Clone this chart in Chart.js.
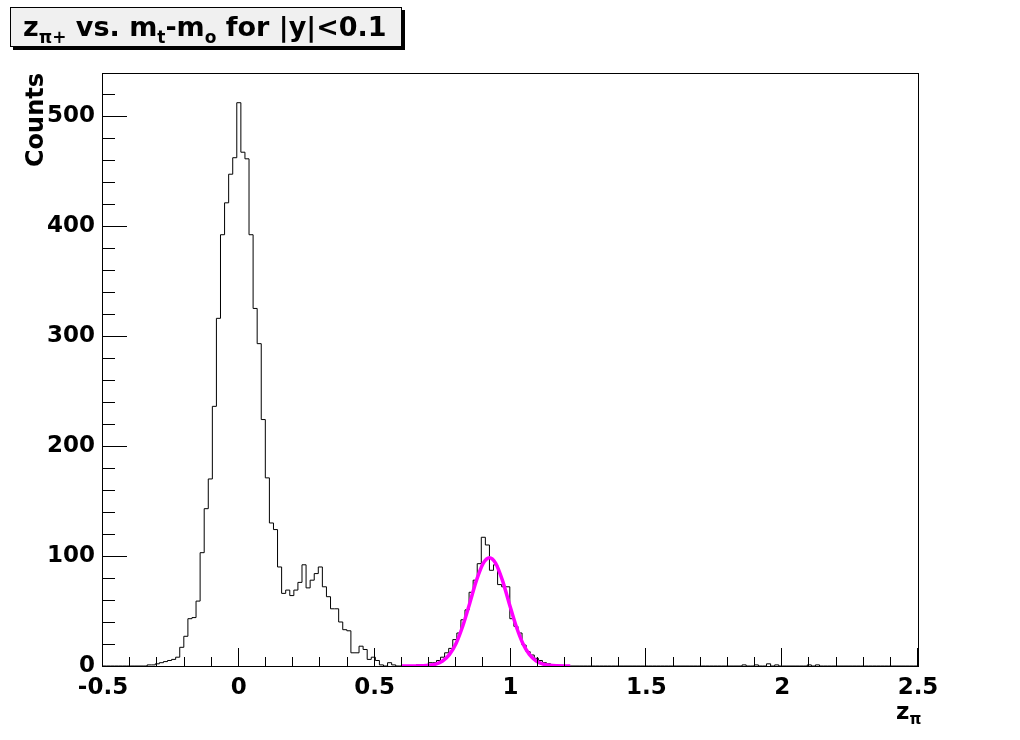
<!DOCTYPE html>
<html lang="en">
<head>
<meta charset="UTF-8">
<title>z_pi+ vs. mt-mo for |y|&lt;0.1</title>
<script src="https://cdn.jsdelivr.net/npm/chart.js"></script>
<style>
  * { box-sizing: border-box; margin: 0; padding: 0; }
  body { background: #fff; }
  #chart { display: block; }
</style>
</head>
<body>
<canvas id="chart" width="1020" height="740"></canvas>
<script>
  // histogram: 200 bins of width 0.015, first low edge at -0.5025
  const binLow = -0.5025;
  const binWidth = 0.015;
  const counts = [
    0, 0, 0, 0, 0, 0, 0, 0, 0, 0,
    0, 1, 1, 2, 3, 4, 5, 6, 8, 17,
    27, 43, 44, 59, 103, 143, 170, 236, 316, 392,
    421, 447, 462, 512, 467, 461, 392, 325, 293, 224,
    171, 130, 124, 90, 66, 69, 64, 69, 76, 92,
    71, 78, 84, 90, 72, 63, 52, 52, 40, 33,
    32, 12, 12, 18, 15, 6, 8, 5, 1, 0,
    3, 1, 0, 0, 0, 0, 0, 1, 1, 1,
    3, 3, 5, 8, 12, 16, 24, 30, 42, 51,
    67, 78, 93, 117, 110, 87, 92, 74, 72, 72,
    43, 36, 30, 19, 13, 10, 7, 5, 3, 2,
    1, 0, 0, 0, 0, 0, 0, 0, 0, 0,
    0, 0, 0, 0, 0, 0, 0, 0, 0, 0,
    0, 0, 0, 0, 0, 0, 0, 0, 0, 0,
    0, 0, 0, 0, 0, 0, 0, 0, 0, 0,
    0, 0, 0, 0, 0, 0, 0, 1, 0, 0,
    1, 0, 0, 2, 0, 1, 0, 0, 0, 0,
    0, 0, 0, 1, 0, 1, 0, 0, 0, 0,
    0, 0, 0, 0, 0, 0, 0, 0, 0, 0,
    0, 0, 0, 0, 0, 0, 0, 0, 0, 0
  ];

  // gaussian fit curve
  const fitX = [0.60, 0.65, 0.70, 0.725, 0.75, 0.775, 0.80, 0.825, 0.85, 0.875, 0.90, 0.9225,
                0.945, 0.97, 0.995, 1.02, 1.045, 1.07, 1.095, 1.12, 1.145, 1.17, 1.22];
  const fitY = [0, 0.05, 0.6, 1.7, 4.5, 10.3, 20.7, 36.8, 57.1, 78, 93.5, 98.5,
                93.5, 78, 57.1, 36.8, 20.7, 10.3, 4.5, 1.7, 0.6, 0.2, 0];

  const xLabels = [-0.5, 0, 0.5, 1, 1.5, 2, 2.5];
  const yLabels = [0, 100, 200, 300, 400, 500];

  const FONT = '"DejaVu Sans"';
  Chart.defaults.font.family = FONT;

  let histPoints = counts.map((c, k) => ({ x: binLow + k * binWidth, y: c }));
  histPoints.push({ x: binLow + counts.length * binWidth, y: counts[counts.length - 1] });
  let fitPoints = fitX.map((x, i) => ({ x: x, y: fitY[i] }));

  // ROOT style frame, inward ticks, title box and x title
  const rootFrame = {
    id: 'rootFrame',
    beforeDraw(chart) {
      const ctx = chart.ctx;
      ctx.save();
      ctx.fillStyle = '#fff';
      ctx.fillRect(0, 0, chart.width, chart.height);
      ctx.restore();
    },
    afterDraw(chart) {
      const { ctx, chartArea: a, scales: { x, y } } = chart;
      ctx.save();
      ctx.strokeStyle = '#000';
      ctx.lineWidth = 1;
      const L = Math.round(a.left), R = Math.round(a.right);
      const T = Math.round(a.top), B = Math.round(a.bottom);
      ctx.strokeRect(L - 0.5, T + 0.5, R - L + 1, B - T);

      ctx.beginPath();
      for (let i = 0; i <= 30; i++) {
        const px = Math.round(x.getPixelForValue(-0.5 + i * 0.1)) - 0.5;
        const len = i % 5 === 0 ? 18 : 9;
        ctx.moveTo(px, B);
        ctx.lineTo(px, B - len);
      }
      for (let i = 0; i * 20 <= y.max; i++) {
        const py = Math.round(y.getPixelForValue(i * 20)) + 0.5;
        const len = i % 5 === 0 ? 24 : 12;
        ctx.moveTo(L, py);
        ctx.lineTo(L + len, py);
      }
      ctx.stroke();

      // title box with shadow
      ctx.fillStyle = '#000';
      ctx.fillRect(13, 10, 392, 40);
      ctx.fillStyle = '#f0f0f0';
      ctx.fillRect(10, 7, 392, 40);
      ctx.strokeRect(10.5, 7.5, 391, 39);

      const parts = [
        ['z', false], ['\u03c0+', true], [' vs. m', false], ['t', true],
        ['-m', false], ['o', true], [' for |y|<0.1', false]
      ];
      ctx.fillStyle = '#000';
      ctx.textBaseline = 'alphabetic';
      let tx = 23;
      for (const [t, sub] of parts) {
        ctx.font = sub ? 'bold 17px ' + FONT : 'bold 27px ' + FONT;
        ctx.fillText(t, tx, sub ? 43 : 36);
        tx += ctx.measureText(t).width;
      }

      // x axis title
      ctx.font = 'bold 23px ' + FONT;
      ctx.fillText('z', 896, 719);
      const zw = ctx.measureText('z').width;
      ctx.font = 'bold 15px ' + FONT;
      ctx.fillText('\u03c0', 896 + zw, 724);
      ctx.restore();
    }
  };

  new Chart(document.getElementById('chart'), {
    type: 'line',
    data: {
      datasets: [
        {
          label: 'fit',
          data: fitPoints,
          borderColor: '#ff00ff',
          borderWidth: 3.5,
          pointRadius: 0,
          cubicInterpolationMode: 'monotone',
          fill: false,
          order: 0
        },
        {
          label: 'hist',
          data: histPoints,
          borderColor: '#000',
          borderWidth: 1,
          pointRadius: 0,
          stepped: true,
          fill: false,
          order: 1
        }
      ]
    },
    options: {
      responsive: false,
      animation: false,
      devicePixelRatio: 1,
      layout: { padding: { left: 0, right: 102, top: 73, bottom: 0 } },
      plugins: { legend: { display: false }, tooltip: { enabled: false } },
      scales: {
        x: {
          type: 'linear',
          min: -0.5,
          max: 2.5,
          grid: { display: false, drawTicks: false },
          border: { display: false },
          afterBuildTicks: s => { s.ticks = xLabels.map(v => ({ value: v })); },
          afterFit: s => { s.height = 74; },
          ticks: {
            autoSkip: false,
            maxRotation: 0,
            padding: 8,
            color: '#000',
            font: { size: 23, weight: 'bold' },
            callback: v => String(v)
          }
        },
        y: {
          min: 0,
          max: 539,
          grid: { display: false, drawTicks: false },
          border: { display: false },
          afterBuildTicks: s => { s.ticks = yLabels.map(v => ({ value: v })); },
          afterFit: s => { s.width = 103; },
          ticks: {
            padding: 8,
            color: '#000',
            font: { size: 23, weight: 'bold' }
          },
          title: {
            display: true,
            text: 'Counts',
            align: 'end',
            color: '#000',
            font: { size: 24, weight: 'bold' },
            padding: { top: 22, bottom: 0 }
          }
        }
      }
    },
    plugins: [rootFrame]
  });
</script>
</body>
</html>
